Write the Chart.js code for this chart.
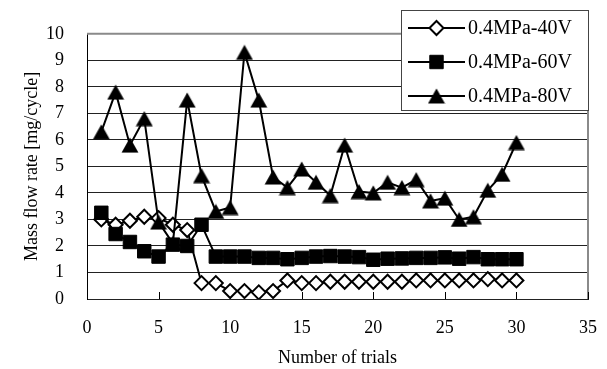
<!DOCTYPE html>
<html>
<head>
<meta charset="utf-8">
<script src="https://cdn.jsdelivr.net/npm/chart.js@4/dist/chart.umd.min.js"></script>
<style>
  html, body { margin: 0; padding: 0; background: #fff; }
  #wrap { width: 607px; height: 369px; }
</style>
</head>
<body>
<div id="wrap"><canvas id="flow-chart" width="607" height="369"></canvas></div>
<script>
// Mass flow rate per trial
const trials = [1, 2, 3, 4, 5, 6, 7, 8, 9, 10, 11, 12, 13, 14, 15,
  16, 17, 18, 19, 20, 21, 22, 23, 24, 25, 26, 27, 28, 29, 30];
const flow40V = [3.0, 2.8, 2.95, 3.1, 3.05, 2.8, 2.6, 0.6, 0.6, 0.3, 0.3, 0.25, 0.3, 0.7, 0.6,
  0.6, 0.65, 0.65, 0.65, 0.65, 0.65, 0.65, 0.7, 0.7, 0.7, 0.7, 0.7, 0.75, 0.7, 0.7];
const flow60V = [3.25, 2.45, 2.15, 1.8, 1.6, 2.05, 2.0, 2.8, 1.6, 1.6, 1.6, 1.55, 1.55, 1.5, 1.55,
  1.6, 1.62, 1.6, 1.58, 1.48, 1.52, 1.53, 1.55, 1.55, 1.57, 1.52, 1.58, 1.5, 1.5, 1.5];
const flow80V = [6.3, 7.8, 5.8, 6.8, 2.9, 2.1, 7.5, 4.65, 3.3, 3.45, 9.3, 7.5, 4.6, 4.2, 4.9,
  4.4, 3.9, 5.8, 4.05, 4.0, 4.4, 4.2, 4.5, 3.7, 3.8, 3.0, 3.1, 4.1, 4.7, 5.9];
const seriesLabels = ['0.4MPa-40V', '0.4MPa-60V', '0.4MPa-80V'];
const xRange = [0, 35];
const yRange = [0, 10];

const FONT = 'Liberation Serif, Times New Roman, serif';

// Triangle marker centred on its bounding box, like the spreadsheet one
function triangleMarker() {
  const c = document.createElement('canvas');
  c.width = 18;
  c.height = 16;
  const g = c.getContext('2d');
  g.fillStyle = '#000';
  g.beginPath();
  g.moveTo(9, 0.5);
  g.lineTo(17.5, 15.5);
  g.lineTo(0.5, 15.5);
  g.closePath();
  g.fill();
  return c;
}

function points(values) {
  return trials.map((t, i) => ({ x: t, y: values[i] }));
}

const frame = {
  id: 'frame',
  beforeDatasetsDraw(chart) {
    const { ctx, chartArea: a, scales } = chart;
    ctx.save();
    ctx.strokeStyle = '#8a8a8a';
    ctx.lineWidth = 2;
    ctx.beginPath();
    ctx.moveTo(a.left, a.top);
    ctx.lineTo(a.right, a.top);
    ctx.lineTo(a.right, a.bottom);
    ctx.stroke();

    // inward tick marks on the x axis
    ctx.strokeStyle = '#000';
    ctx.lineWidth = 1;
    scales.x.ticks.forEach((t) => {
      const px = Math.round(scales.x.getPixelForValue(t.value)) + 0.5;
      ctx.beginPath();
      ctx.moveTo(px, a.bottom);
      ctx.lineTo(px, a.bottom - 7);
      ctx.stroke();
    });
    ctx.restore();
  },
  afterDraw(chart) {
    const { ctx } = chart;
    const box = { left: 401, top: 10, width: 188, height: 101 };
    ctx.save();
    ctx.fillStyle = '#fff';
    ctx.fillRect(box.left, box.top, box.width, box.height);
    ctx.strokeStyle = '#444';
    ctx.lineWidth = 1;
    ctx.strokeRect(box.left + 0.5, box.top + 0.5, box.width - 1, box.height - 1);

    chart.data.datasets.forEach((ds, i) => {
      const y = 28 + i * 34;
      ctx.strokeStyle = '#000';
      ctx.lineWidth = 2;
      ctx.beginPath();
      ctx.moveTo(408, y);
      ctx.lineTo(465, y);
      ctx.stroke();

      ctx.fillStyle = ds.pointBackgroundColor;
      ctx.strokeStyle = ds.pointBorderColor;
      ctx.lineWidth = ds.pointBorderWidth;
      Chart.helpers.drawPoint(ctx, {
        pointStyle: ds.pointStyle,
        radius: ds.pointRadius,
        borderWidth: ds.pointBorderWidth,
        rotation: 0,
      }, 436.5, y);

      ctx.fillStyle = '#000';
      ctx.font = '20px ' + FONT;
      ctx.textBaseline = 'middle';
      ctx.fillText(ds.label, 468, y + 1);
    });
    ctx.restore();
  },
};

new Chart(document.getElementById('flow-chart'), {
  type: 'line',
  data: {
    datasets: [
      {
        label: seriesLabels[0],
        data: points(flow40V),
        borderColor: '#000',
        borderWidth: 2,
        pointStyle: 'rectRot',
        pointRadius: 7,
        pointBackgroundColor: '#fff',
        pointBorderColor: '#000',
        pointBorderWidth: 2,
        order: 3,
      },
      {
        label: seriesLabels[1],
        data: points(flow60V),
        borderColor: '#000',
        borderWidth: 2,
        pointStyle: 'rect',
        pointRadius: 9.5,
        pointBackgroundColor: '#000',
        pointBorderColor: '#000',
        pointBorderWidth: 1,
        order: 1,
      },
      {
        label: seriesLabels[2],
        data: points(flow80V),
        borderColor: '#000',
        borderWidth: 2,
        pointStyle: triangleMarker(),
        pointRadius: 9,
        pointBackgroundColor: '#000',
        pointBorderColor: '#000',
        pointBorderWidth: 0,
        order: 2,
      },
    ],
  },
  options: {
    responsive: false,
    devicePixelRatio: 1,
    animation: false,
    layout: { padding: { top: 21, right: 19, left: 0, bottom: 0 } },
    plugins: {
      legend: { display: false },
      tooltip: { enabled: false },
    },
    scales: {
      x: {
        type: 'linear',
        min: xRange[0],
        max: xRange[1],
        ticks: { stepSize: 5, color: '#000', padding: 10, font: { family: FONT, size: 18 } },
        grid: { display: false },
        border: { color: '#222', width: 1 },
        title: {
          display: true,
          text: 'Number of trials',
          color: '#000',
          font: { family: FONT, size: 18 },
          padding: { top: 4, bottom: 0 },
        },
        afterFit(scale) { scale.height = 70; },
      },
      y: {
        min: yRange[0],
        max: yRange[1],
        ticks: { stepSize: 1, color: '#000', padding: 23, font: { family: FONT, size: 18 } },
        grid: {
          drawTicks: false,
          color: (c) => (c.tick && c.tick.value === yRange[1] ? 'rgba(0,0,0,0)' : '#222'),
          lineWidth: 1,
        },
        border: { color: '#000', width: 1 },
        title: {
          display: true,
          text: 'Mass flow rate [mg/cycle]',
          color: '#000',
          font: { family: FONT, size: 18 },
          padding: { top: 21, bottom: 0 },
        },
        afterFit(scale) { scale.width = 87; },
      },
    },
  },
  plugins: [frame],
});
</script>
</body>
</html>
